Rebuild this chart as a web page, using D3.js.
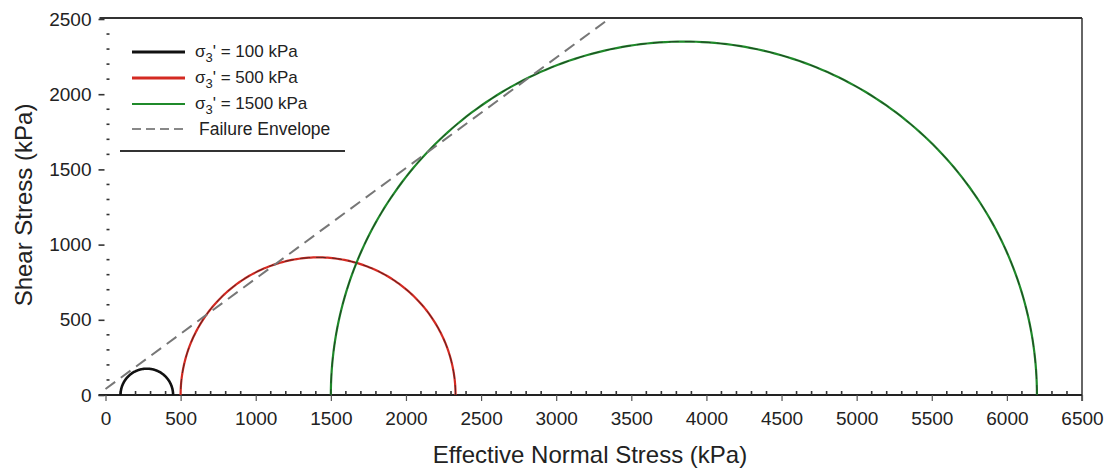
<!DOCTYPE html>
<html>
<head>
<meta charset="utf-8">
<script src="https://cdn.jsdelivr.net/npm/d3@7"></script>
<style>
body { margin: 0; background: #fff; }
text { font-family: "Liberation Sans", Arial, sans-serif; fill: #222; }
</style>
</head>
<body>
<div id="chart"></div>
<script>
// Mohr circles: minor and major principal effective stresses (kPa)
var sigma3 = [100, 500, 1500];
var sigma1 = [450, 2330, 6200];
var seriesNames = ["100 kPa", "500 kPa", "1500 kPa"];
var seriesColors = ["#111111", "#d42a22", "#1f8a2a"];
// failure envelope end points
var envX = [0, 3350];
var envY = [40, 2500];
var xTicks = [0, 500, 1000, 1500, 2000, 2500, 3000, 3500, 4000, 4500, 5000, 5500, 6000, 6500];
var yTicks = [0, 500, 1000, 1500, 2000, 2500];

var width = 1108, height = 469;
var x0 = 105.5, x1 = 1082, y0 = 395, y1 = 19;

var svg = d3.select("#chart").append("svg")
    .attr("width", width)
    .attr("height", height);

var xScale = d3.scaleLinear().domain([0, 6500]).range([x0, x1]);
var yScale = d3.scaleLinear().domain([0, 2500]).range([y0, y1]);

// frame: top and right lines
svg.append("line").attr("x1", x0 - 6).attr("x2", x1).attr("y1", y1 - 1).attr("y2", y1 - 1)
    .attr("stroke", "#333").attr("stroke-width", 2);
svg.append("line").attr("x1", x1).attr("x2", x1).attr("y1", y1 - 1).attr("y2", y0 + 6)
    .attr("stroke", "#333").attr("stroke-width", 1.5);

// x axis
var xAxis = d3.axisBottom(xScale).tickValues(xTicks).tickSize(6).tickPadding(11)
    .tickFormat(d3.format("d"));
var gx = svg.append("g").attr("transform", "translate(0," + y0 + ")").call(xAxis);
gx.select(".domain").attr("d", "M" + (x0 - 7) + ",0H" + x1).attr("stroke", "#222").attr("stroke-width", 2);
gx.selectAll(".tick line").attr("stroke", "#555").attr("stroke-width", 1.2);
gx.selectAll(".tick text").style("font-size", "19px").style("font-family", "Liberation Sans, Arial, sans-serif").attr("fill", "#222");

// x minor ticks (pointing up)
var xMinor = d3.range(100, 6500, 100).filter(function (d) { return d % 500 !== 0; });
svg.append("g").selectAll("line").data(xMinor).join("line")
    .attr("x1", function (d) { return xScale(d); })
    .attr("x2", function (d) { return xScale(d); })
    .attr("y1", y0).attr("y2", y0 - 4)
    .attr("stroke", "#333").attr("stroke-width", 1.6);

// y axis (no domain line)
var yAxis = d3.axisLeft(yScale).tickValues(yTicks).tickSize(6).tickPadding(7)
    .tickFormat(d3.format("d"));
var gy = svg.append("g").attr("transform", "translate(" + (x0 - 1) + ",0)").call(yAxis);
gy.select(".domain").remove();
gy.selectAll(".tick line").attr("stroke", "#333").attr("stroke-width", 1.6);
gy.selectAll(".tick text").style("font-size", "19px").style("font-family", "Liberation Sans, Arial, sans-serif").attr("fill", "#222");

// y minor dashes
var yMinor = d3.range(100, 2500, 100).filter(function (d) { return d % 500 !== 0; });
svg.append("g").selectAll("line").data(yMinor).join("line")
    .attr("x1", x0 + 1).attr("x2", x0 + 4)
    .attr("y1", function (d) { return yScale(d); })
    .attr("y2", function (d) { return yScale(d); })
    .attr("stroke", "#333").attr("stroke-width", 1.6);

// axis titles
svg.append("text").attr("x", 590).attr("y", 463)
    .attr("text-anchor", "middle").style("font-size", "24px")
    .text("Effective Normal Stress (kPa)");
svg.append("text").attr("transform", "translate(32,205) rotate(-90)")
    .attr("text-anchor", "middle").style("font-size", "24px")
    .text("Shear Stress (kPa)");

// Mohr circles
var line = d3.line().x(function (p) { return xScale(p[0]); }).y(function (p) { return yScale(p[1]); });
var angles = d3.range(0, 181, 1);
var circleData = sigma3.map(function (s3, i) {
    var c = (s3 + sigma1[i]) / 2, r = (sigma1[i] - s3) / 2;
    return angles.map(function (a) {
        var t = a * Math.PI / 180;
        return [c + r * Math.cos(t), r * Math.sin(t)];
    });
});
var cg = svg.append("g");
cg.selectAll("path.circ").data(circleData).join("path")
    .attr("class", "circ")
    .attr("d", line)
    .attr("fill", "none")
    .attr("stroke", function (d, i) { return seriesColors[i]; })
    .attr("stroke-width", function (d, i) { return i === 0 ? 2.6 : 2.2; });
cg.selectAll("path.over").data(circleData.slice(1)).join("path")
    .attr("class", "over")
    .attr("d", line)
    .attr("fill", "none")
    .attr("stroke", "#222")
    .attr("stroke-opacity", 0.7)
    .attr("stroke-width", 1)
    .attr("stroke-dasharray", "10,6");

// failure envelope
svg.append("path")
    .attr("d", line([[envX[0], envY[0]], [envX[1], envY[1]]]))
    .attr("fill", "none")
    .attr("stroke", "#777")
    .attr("stroke-width", 2)
    .attr("stroke-dasharray", "12,7");

// legend
var legend = svg.append("g");
var rows = [52, 78, 104, 129];
seriesNames.forEach(function (name, i) {
    legend.append("line").attr("x1", 132).attr("x2", 185).attr("y1", rows[i]).attr("y2", rows[i])
        .attr("stroke", seriesColors[i]).attr("stroke-width", i === 2 ? 2 : 3);
    var t = legend.append("text").attr("x", 195).attr("y", rows[i] + 5).style("font-size", "17px");
    t.append("tspan").text("\u03c3");
    t.append("tspan").attr("dy", 5).style("font-size", "13px").text("3");
    t.append("tspan").attr("dy", -5).text("' = " + name);
});
legend.append("line").attr("x1", 132).attr("x2", 185).attr("y1", rows[3]).attr("y2", rows[3])
    .attr("stroke", "#888").attr("stroke-width", 2).attr("stroke-dasharray", "9,5");
legend.append("text").attr("x", 199).attr("y", rows[3] + 6).style("font-size", "17.5px").text("Failure Envelope");
legend.append("line").attr("x1", 120).attr("x2", 345).attr("y1", 151).attr("y2", 151)
    .attr("stroke", "#333").attr("stroke-width", 2);
</script>
</body>
</html>
